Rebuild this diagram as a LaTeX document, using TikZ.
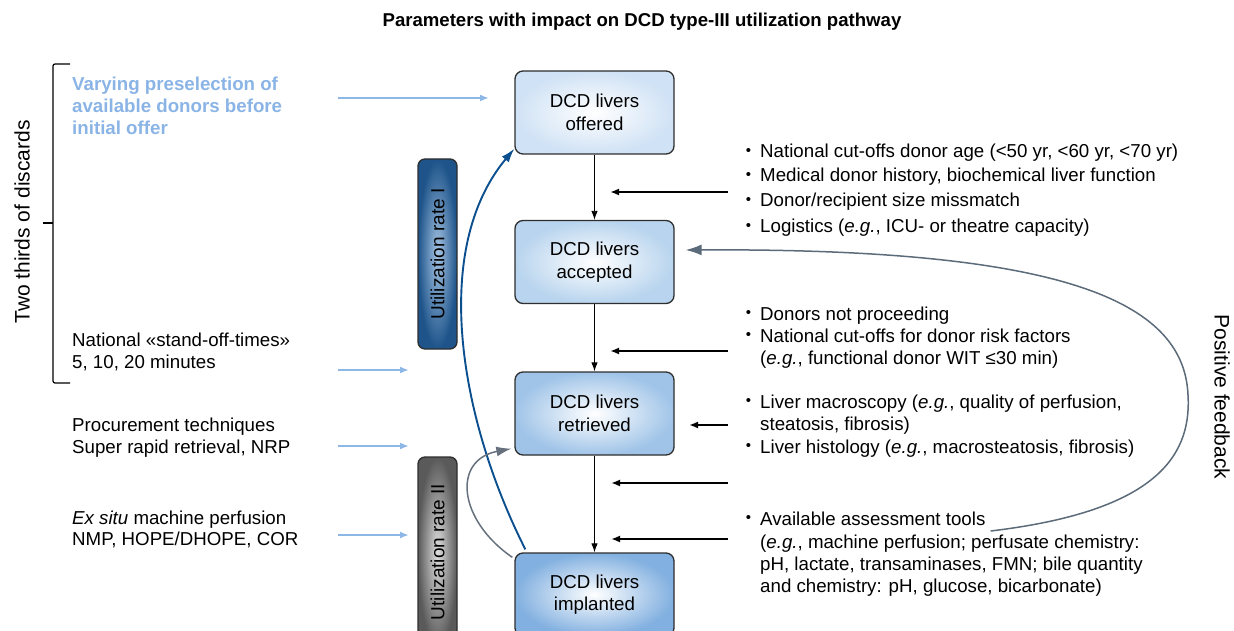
\documentclass[tikz,border=0pt]{standalone}
\usepackage{fontspec}
\setmainfont{Liberation Sans}
\usetikzlibrary{arrows.meta}

\definecolor{boxline}{HTML}{2E2E2E}
\definecolor{feedin}{HTML}{8DB7E6}
\definecolor{preselect}{HTML}{8AB4E6}
\definecolor{loopblue}{HTML}{0B4F8F}
\definecolor{loopgray}{HTML}{66717D}
\definecolor{fbgray}{HTML}{5C6B7A}

\newcommand{\smallbullet}{\raisebox{0.12em}{\fontsize{15}{15}\selectfont\textbullet}}

\tikzset{
  body/.style={font=\fontsize{18.7}{22.5}\selectfont},
  livers/.style={draw=boxline, line width=1.3pt, rounded corners=8pt,
    minimum width=159pt, minimum height=83pt, inner sep=0pt, align=center,
    shading=radial, inner color=white, body},
  ratebox/.style={draw=boxline, line width=1.3pt, rounded corners=7pt,
    minimum width=190pt, minimum height=39pt, inner sep=0pt, rotate=90,
    shading=radial, font=\fontsize{19}{22}\selectfont},
  line/.style={anchor=base west, inner sep=0pt, body},
  bul/.style={anchor=base west, inner sep=0pt, body,
    execute at begin node={\llap{\smallbullet\hspace{9pt}}}},
  flow/.style={draw=black, line width=0.9pt, -{Latex[length=9pt,width=6.5pt]}},
  factor/.style={draw=black, line width=2.4pt, -{Latex[length=9pt,width=7pt]}},
  inflow/.style={draw=feedin, line width=2pt, -{Latex[length=9pt,width=7pt]}},
}

\begin{document}
\begin{tikzpicture}[x=1pt,y=-1pt]
\useasboundingbox (0,0) rectangle (1234,631);
\clip (0,0) rectangle (1234,631);

% heading
\node[font=\fontsize{18.6}{22}\selectfont\bfseries, inner sep=0pt] (title) at (642,22)
  {Parameters with impact on DCD type-III utilization pathway};

% pathway boxes
\node[livers, outer color={rgb,255:red,208;green,226;blue,245}] (off) at (594.5,112.5) {DCD livers\\offered};
\node[livers, outer color={rgb,255:red,184;green,212;blue,238}] (acc) at (594.5,262) {DCD livers\\accepted};
\node[livers, outer color={rgb,255:red,160;green,196;blue,232}] (ret) at (594.5,413.5) {DCD livers\\retrieved};
\node[livers, outer color={rgb,255:red,130;green,176;blue,224}] (imp) at (594.5,594.5) {DCD livers\\implanted};

\draw[flow] (off.south) -- (acc.north);
\draw[flow] (acc.south) -- (ret.north);
\draw[flow] (ret.south) -- (imp.north);

% utilization rates
\node[ratebox, inner color={rgb,255:red,165;green,196;blue,228}, outer color={rgb,255:red,30;green,84;blue,138}] (rate1) at (437.5,254) {Utilization rate I};
\node[ratebox, inner color={rgb,255:red,222;green,222;blue,222}, outer color={rgb,255:red,90;green,90;blue,90}] (rate2) at (437.5,552) {Utilization rate II};

% loops between the boxes
\coordinate (blueS) at ([shift={(11,-3)}]imp.north west);
\coordinate (blueE) at ([shift={(0,-6)}]off.south west);
\draw[loopblue, line width=1.9pt, -{Latex[length=14pt,width=9pt]}]
  (blueS) .. controls (460,420) and (430,250) .. (blueE);
\coordinate (grayS) at ([shift={(-2,5)}]imp.north west);
\coordinate (grayE) at ([shift={(-3,-7)}]ret.south west);
\draw[loopgray, line width=1.5pt, -{Latex[length=15pt,width=10pt]}]
  (grayS) .. controls (458,520) and (452,460) .. (grayE);

% left side: influences
\node[line, font=\fontsize{18.7}{22.5}\selectfont\bfseries, text=preselect] (pre1) at (72,91) {Varying preselection of};
\node[line, font=\fontsize{18.7}{22.5}\selectfont\bfseries, text=preselect] (pre2) at (72,113) {available donors before};
\node[line, font=\fontsize{18.7}{22.5}\selectfont\bfseries, text=preselect] (pre3) at (72,135) {initial offer};

\node[line] (so1) at (72,346) {National «stand-off-times»};
\node[line] (so2) at (72,368) {5, 10, 20 minutes};
\node[line] (pt1) at (72,431) {Procurement techniques};
\node[line] (pt2) at (72,453) {Super rapid retrieval, NRP};
\node[line] (mp1) at (72,524) {\textit{Ex situ} machine perfusion};
\node[line] (mp2) at (72,545) {NMP, HOPE/DHOPE, COR};

\coordinate (in1s) at (338,98);  \coordinate (in1e) at (489,98);
\coordinate (in2s) at (338,370); \coordinate (in2e) at (409,370);
\coordinate (in3s) at (338,446); \coordinate (in3e) at (409,446);
\coordinate (in4s) at (338,535); \coordinate (in4e) at (409,535);
\draw[inflow] (in1s) -- (in1e);
\draw[inflow] (in2s) -- (in2e);
\draw[inflow] (in3s) -- (in3e);
\draw[inflow] (in4s) -- (in4e);

% bracket
\draw[line width=1.2pt, rounded corners=2pt] (70,64) -- (53,64) -- (53,383) -- (70,383);
\draw[line width=1.2pt] (43,223) -- (53,223);
\node[rotate=90, inner sep=0pt, font=\fontsize{21}{24}\selectfont] (discards) at (22,222) {Two thirds of discards};

% right side: parameters
\node[bul] (a1) at (760,158) {National cut-offs donor age (<50 yr, <60 yr, <70 yr)};
\node[bul] (a2) at (760,182) {Medical donor history, biochemical liver function};
\node[bul] (a3) at (760,207) {Donor/recipient size missmatch};
\node[bul] (a4) at (760,233) {Logistics (\textit{e.g.}, ICU- or theatre capacity)};

\node[bul] (b1) at (760,320) {Donors not proceeding};
\node[bul] (b2) at (760,342) {National cut-offs for donor risk factors};
\node[line] (b3) at (760,364) {(\textit{e.g.}, functional donor WIT ≤30 min)};

\node[bul] (c1) at (760,408) {Liver macroscopy (\textit{e.g.}, quality of perfusion,};
\node[line] (c2) at (760,430) {steatosis, fibrosis)};
\node[bul] (c3) at (760,453) {Liver histology (\textit{e.g.}, macrosteatosis, fibrosis)};

\node[bul] (d1) at (760,525) {Available assessment tools};
\node[line] (d2) at (760,548) {(\textit{e.g.}, machine perfusion; perfusate chemistry:};
\node[line] (d3) at (760,570) {pH, lactate, transaminases, FMN; bile quantity};
\node[line] (d4) at (760,592) {and chemistry: pH, glucose, bicarbonate)};

\coordinate (f1s) at (728,192); \coordinate (f1e) at (610,192);
\coordinate (f2s) at (728,351); \coordinate (f2e) at (610,351);
\coordinate (f3s) at (728,425); \coordinate (f3e) at (689,425);
\coordinate (f4s) at (728,483); \coordinate (f4e) at (611,483);
\coordinate (f5s) at (728,539); \coordinate (f5e) at (611,539);
\draw[factor] (f1s) -- (f1e);
\draw[factor] (f2s) -- (f2e);
\draw[factor] (f3s) -- (f3e);
\draw[factor] (f4s) -- (f4e);
\draw[factor] (f5s) -- (f5e);

% positive feedback loop
\coordinate (fbS) at ([xshift=5pt, yshift=-6pt]d1.base east);
\coordinate (fbE) at ([shift={(11,-12)}]acc.east);
\draw[fbgray, line width=1.5pt, -{Latex[length=16pt,width=11pt]}]
  (fbS) .. controls (1150,512) and (1192,460) .. (1188,395)
        .. controls (1184,300) and (1060,248) .. (fbE);
\node[rotate=-90, inner sep=0pt, font=\fontsize{21}{24}\selectfont] (pf) at (1222,397) {Positive feedback};
\end{tikzpicture}
\end{document}
